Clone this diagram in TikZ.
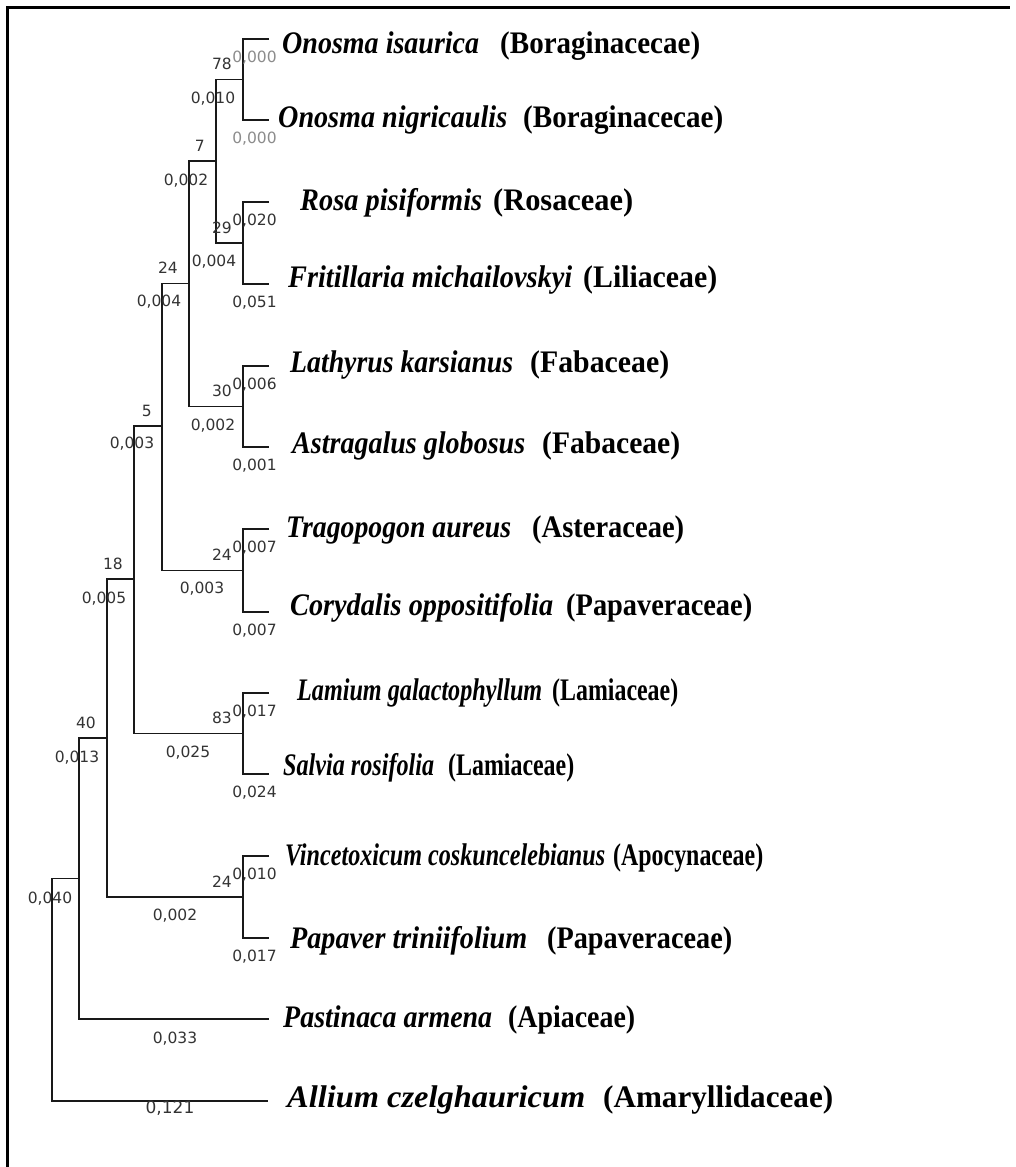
\documentclass[tikz,border=0pt]{standalone}
\usepackage{fontspec}
\setmainfont{Liberation Serif}
\newfontfamily\szamfont{DejaVu Sans}
\usetikzlibrary{positioning}
\newcommand{\fitlabel}[2]{\resizebox{#1}{1.12\height}{#2}}

\begin{document}
\begin{tikzpicture}[
    x=1pt, y=-1pt,
    % Stílus az ágakhoz
    branch/.style={line width=1.4pt, black!90},
    % Stílus a kerethez
    frame/.style={line width=3pt, black},
    % Bootstrap értékek és ághosszak
    boot/.style={font=\szamfont\fontsize{15.5}{16}\selectfont, text=black!80, inner sep=0pt},
    blen/.style={boot, anchor=base},
    zero/.style={blen, text=black!45},
    % Fajnevek és családnevek
    species/.style={font=\fontsize{28}{30}\selectfont\bfseries\itshape, inner sep=0pt, anchor=base west},
    family/.style={font=\fontsize{28}{30}\selectfont\bfseries, inner sep=0pt, anchor=base west}
]
    \path[fill=white] (0,0) rectangle (1015,1167);
    \useasboundingbox (0,0) rectangle (1015,1167);

    % Keret (csak a bal és a felső oldal látszik)
    \draw[frame] (7,1167) -- (7,7) -- (1010,7);

    % Levelek végpontjai
    \coordinate (T1) at (269,39);
    \coordinate (T2) at (269,120);
    \coordinate (T3) at (269,202);
    \coordinate (T4) at (269,284);
    \coordinate (T5) at (269,366);
    \coordinate (T6) at (269,447);
    \coordinate (T7) at (269,529);
    \coordinate (T8) at (269,612);
    \coordinate (T9) at (269,693);
    \coordinate (T10) at (269,774);
    \coordinate (T11) at (269,856);
    \coordinate (T12) at (269,938);
    \coordinate (T13) at (269,1019);
    \coordinate (T14) at (268,1101);

    % Belső csomópontok
    \coordinate (N78) at (243,79.5);
    \coordinate (N29) at (243,243);
    \coordinate (N7) at (216,161);
    \coordinate (N30) at (243,406.5);
    \coordinate (N24a) at (189,283.5);
    \coordinate (N24b) at (243,570.5);
    \coordinate (N5) at (162,426);
    \coordinate (N83) at (243,733.5);
    \coordinate (N18) at (134,579);
    \coordinate (N24c) at (243,897);
    \coordinate (N40) at (107,738);
    \coordinate (N40b) at (79,878.5);
    \coordinate (Root) at (52,990);

    % Ágak rajzolása
    \draw[branch] (T1) -| (N78) |- (T2);
    \draw[branch] (T3) -| (N29) |- (T4);
    \draw[branch] (N78) -| (N7) |- (N29);
    \draw[branch] (T5) -| (N30) |- (T6);
    \draw[branch] (N7) -| (N24a) |- (N30);
    \draw[branch] (T7) -| (N24b) |- (T8);
    \draw[branch] (N24a) -| (N5) |- (N24b);
    \draw[branch] (T9) -| (N83) |- (T10);
    \draw[branch] (N5) -| (N18) |- (N83);
    \draw[branch] (T11) -| (N24c) |- (T12);
    \draw[branch] (N18) -| (N40) |- (N24c);
    \draw[branch] (N40) -| (N40b) |- (T13);
    \draw[branch] (N40b) -| (Root) |- (T14);

    % Bootstrap értékek a csomópontoknál
    \node[boot, above left=9.5pt and 11pt of N78] (B78) {78};
    \node[boot, above left=9.5pt and 11pt of N7] (B7) {7};
    \node[boot, above left=9.5pt and 11pt of N29] (B29) {29};
    \node[boot, above left=9.5pt and 11pt of N24a] (B24a) {24};
    \node[boot, above left=9.5pt and 11pt of N30] (B30) {30};
    \node[boot, above left=9.5pt and 10pt of N5] (B5) {5};
    \node[boot, above left=9.5pt and 11pt of N24b] (B24b) {24};
    \node[boot, above left=9.5pt and 11pt of N18] (B18) {18};
    \node[boot, above left=9.5pt and 11pt of N83] (B83) {83};
    \node[boot, above left=9.5pt and 11pt of N40] (B40) {40};
    \node[boot, above left=9.5pt and 11pt of N24c] (B24c) {24};

    % Ághosszak a levelek alatt
    \node[zero] (L1) at (254.5,62.5) {0,000};
    \node[zero] (L2) at (254.5,143.5) {0,000};
    \node[blen] (L3) at (254.5,225.5) {0,020};
    \node[blen] (L4) at (254.5,307.5) {0,051};
    \node[blen] (L5) at (254.5,389.5) {0,006};
    \node[blen] (L6) at (254.5,470.5) {0,001};
    \node[blen] (L7) at (254.5,552.5) {0,007};
    \node[blen] (L8) at (254.5,635.5) {0,007};
    \node[blen] (L9) at (254.5,716.5) {0,017};
    \node[blen] (L10) at (254.5,797.5) {0,024};
    \node[blen] (L11) at (254.5,879.5) {0,010};
    \node[blen] (L12) at (254.5,961.5) {0,017};
    \node[blen] (L13) at (175,1043) {0,033};
    \node[blen, font=\szamfont\fontsize{17}{18}\selectfont] (L14) at (170,1113) {0,121};

    % Ághosszak a belső ágak alatt
    \node[blen] (M78) at (213,103) {0,010};
    \node[blen] (M7) at (186,185) {0,002};
    \node[blen] (M29) at (214,266) {0,004};
    \node[blen] (M24a) at (159,306) {0,004};
    \node[blen] (M30) at (213,430) {0,002};
    \node[blen] (M5) at (132,448) {0,003};
    \node[blen] (M24b) at (202,593) {0,003};
    \node[blen] (M18) at (104,603) {0,005};
    \node[blen] (M83) at (188,757) {0,025};
    \node[blen] (M40) at (77,762) {0,013};
    \node[blen] (M24c) at (175,920) {0,002};
    \node[blen] (M40b) at (50,903) {0,040};

    % Fajnevek
    \node[species] (S1) at (282,53) {\fitlabel{197pt}{Onosma isaurica}};
    \node[species] (S2) at (278,127) {\fitlabel{229pt}{Onosma nigricaulis}};
    \node[species] (S3) at (300,210) {\fitlabel{182pt}{Rosa pisiformis}};
    \node[species] (S4) at (288,287) {\fitlabel{284pt}{Fritillaria michailovskyi}};
    \node[species] (S5) at (290,372) {\fitlabel{223pt}{Lathyrus karsianus}};
    \node[species] (S6) at (292,453) {\fitlabel{233pt}{Astragalus globosus}};
    \node[species] (S7) at (286,537) {\fitlabel{225pt}{Tragopogon aureus}};
    \node[species] (S8) at (290,615) {\fitlabel{263pt}{Corydalis oppositifolia}};
    \node[species] (S9) at (297,700) {\fitlabel{245pt}{Lamium galactophyllum}};
    \node[species] (S10) at (283,775) {\fitlabel{151pt}{Salvia rosifolia}};
    \node[species] (S11) at (285,865) {\fitlabel{320pt}{Vincetoxicum coskuncelebianus}};
    \node[species] (S12) at (290,948) {\fitlabel{237pt}{Papaver triniifolium}};
    \node[species] (S13) at (283,1027) {\fitlabel{209pt}{Pastinaca armena}};
    \node[species] (S14) at (287,1107) {\fitlabel{298pt}{Allium czelghauricum}};

    % Családnevek
    \node[family] (F1) at (500,53) {\fitlabel{200pt}{(Boraginacecae)}};
    \node[family] (F2) at (523,127) {\fitlabel{200pt}{(Boraginacecae)}};
    \node[family] (F3) at (493,210) {\fitlabel{140pt}{(Rosaceae)}};
    \node[family] (F4) at (583,287) {\fitlabel{134pt}{(Liliaceae)}};
    \node[family] (F5) at (530,372) {\fitlabel{139pt}{(Fabaceae)}};
    \node[family] (F6) at (542,453) {\fitlabel{138pt}{(Fabaceae)}};
    \node[family] (F7) at (532,537) {\fitlabel{152pt}{(Asteraceae)}};
    \node[family] (F8) at (566,615) {\fitlabel{186pt}{(Papaveraceae)}};
    \node[family] (F9) at (552,700) {\fitlabel{126pt}{(Lamiaceae)}};
    \node[family] (F10) at (448,775) {\fitlabel{126pt}{(Lamiaceae)}};
    \node[family] (F11) at (613,865) {\fitlabel{150pt}{(Apocynaceae)}};
    \node[family] (F12) at (547,948) {\fitlabel{185pt}{(Papaveraceae)}};
    \node[family] (F13) at (508,1027) {\fitlabel{127pt}{(Apiaceae)}};
    \node[family] (F14) at (603,1107) {\fitlabel{230pt}{(Amaryllidaceae)}};
\end{tikzpicture}
\end{document}
